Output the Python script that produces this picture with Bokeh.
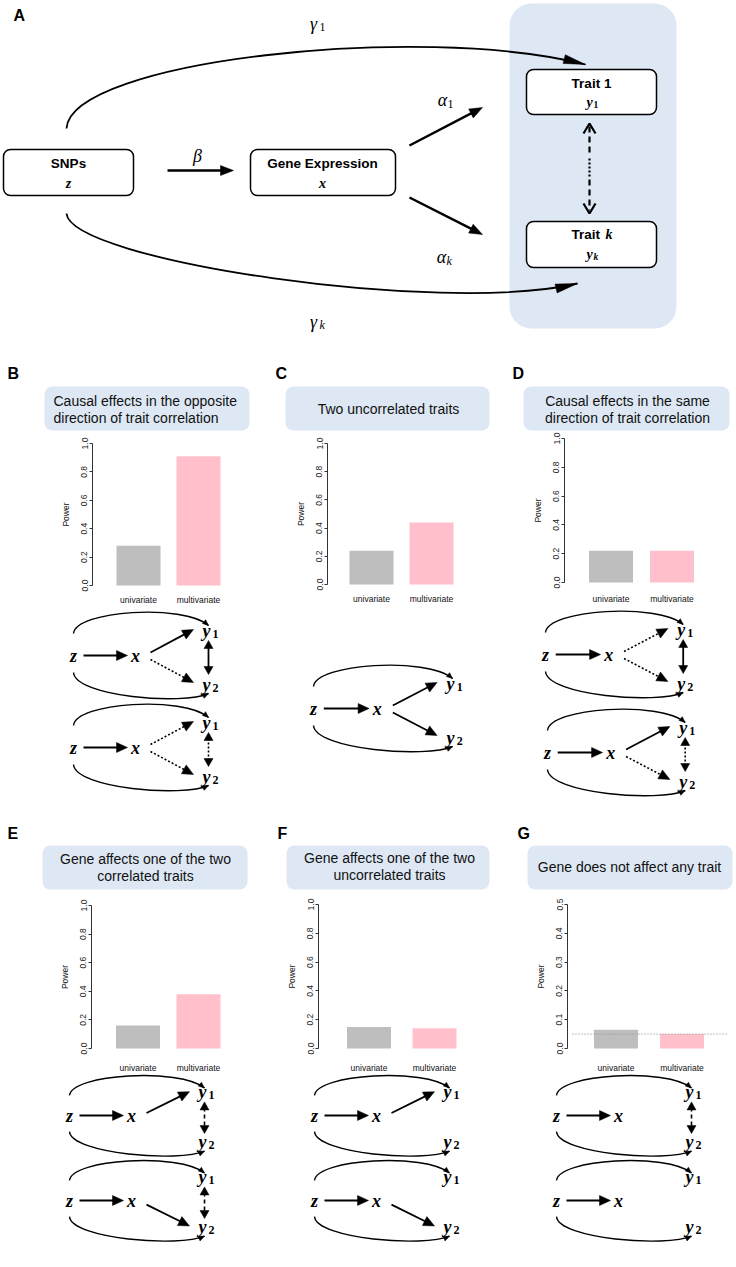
import math
from bokeh.plotting import figure
from bokeh.models import Range1d, LinearAxis, FixedTicker, BoxAnnotation, PrintfTickFormatter
from bokeh.core.properties import value
from bokeh.embed import file_html
from bokeh.resources import INLINE

# ---------------- data ----------------
methods = ["univariate", "multivariate"]
power_B = [0.28, 0.91]
power_C = [0.24, 0.44]
power_D = [0.22, 0.22]
power_E = [0.16, 0.38]
power_F = [0.15, 0.14]
power_G = [0.065, 0.05]
alpha_G = 0.05
ticks_full = [0.0, 0.2, 0.4, 0.6, 0.8, 1.0]
ticks_G = [0.0, 0.1, 0.2, 0.3, 0.4, 0.5]
bar_colors = ["#bebebe", "#ffc0cb"]
title_B = ["Causal effects in the opposite", "direction of trait correlation"]
title_C = ["Two uncorrelated traits"]
title_D = ["Causal effects in the same", "direction of trait correlation"]
title_E = ["Gene affects one of the two", "correlated traits"]
title_F = ["Gene affects one of the two", "uncorrelated traits"]
title_G = ["Gene does not affect any trait"]

# ---------------- canvas ----------------
W, H, M = 736, 1267, 0
p = figure(width=W, height=H, x_range=Range1d(M, M + W), y_range=Range1d(M + H, M),
           output_backend="svg", toolbar_location=None, x_axis_location=None,
           y_axis_location=None, min_border=0, outline_line_color=None,
           background_fill_color="white", border_fill_color="white")
p.xgrid.visible = False
p.ygrid.visible = False

BLUE = "#dde8f4"
SANS = "Liberation Sans"
SERIF = "Liberation Serif"
TY = -5  # baseline correction


def T(x, y, s, size, font=SANS, style="normal", align="center", base="alphabetic", color="#000000"):
    p.text(x=[x], y=[y + TY], text=[s], text_font=value(font), text_font_size=f"{size}px",
           text_font_style=style, text_align=align, text_baseline=base, text_color=color)


def box(l, r, t, b, fill, line=None, lw=1.5, rad=8):
    p.add_layout(BoxAnnotation(left=l, right=r, top=t, bottom=b, fill_color=fill, fill_alpha=1,
                               line_color=line, line_alpha=1 if line else 0, line_width=lw,
                               line_dash="solid", border_radius=rad, level="underlay"))


lines = {}
heads_x, heads_y = [], []
open_x, open_y = [], []
beziers = {}


def add_line(xs, ys, kind):
    lines.setdefault(kind, ([], []))
    lines[kind][0].append(xs)
    lines[kind][1].append(ys)


def head(tx, ty, dx, dy, L, Wd):
    n = math.hypot(dx, dy)
    ux, uy = dx / n, dy / n
    bx, by = tx - L * ux, ty - L * uy
    px, py = -uy, ux
    heads_x.append([tx, bx + Wd / 2 * px, bx - Wd / 2 * px])
    heads_y.append([ty, by + Wd / 2 * py, by - Wd / 2 * py])


def open_head(tx, ty, dx, dy, L, Wd):
    n = math.hypot(dx, dy)
    ux, uy = dx / n, dy / n
    bx, by = tx - L * ux, ty - L * uy
    px, py = -uy, ux
    open_x.append([bx + Wd / 2 * px, tx, bx - Wd / 2 * px])
    open_y.append([by + Wd / 2 * py, ty, by - Wd / 2 * py])


def arrow(x0, y0, x1, y1, kind, L, Wd):
    dx, dy = x1 - x0, y1 - y0
    n = math.hypot(dx, dy)
    ux, uy = dx / n, dy / n
    add_line([x0, x1 - 0.7 * L * ux], [y0, y1 - 0.7 * L * uy], kind)
    head(x1, y1, dx, dy, L, Wd)


def curve(P0, P1, P2, P3, lw, L, Wd):
    beziers.setdefault(lw, [])
    beziers[lw].append((P0, P1, P2, P3))
    head(P3[0], P3[1], P3[0] - P2[0], P3[1] - P2[1], L, Wd)


# ---------------- panel A ----------------
box(509, 676, 3, 328, BLUE, rad=22)
box(3, 133, 149, 195, "white", "black", 1.5, 7)
box(250, 395, 149, 195, "white", "black", 1.5, 7)
box(526, 656, 69, 114, "white", "black", 1.5, 7)
box(526, 656, 221, 267, "white", "black", 1.5, 7)
T(13, 20, "A", 16, style="bold", align="left")
T(68, 168, "SNPs", 13.5, style="bold")
T(68, 188, "z", 14, font=SERIF, style="bold italic")
T(322, 168, "Gene Expression", 13.5, style="bold")
T(322, 188, "x", 14, font=SERIF, style="bold italic")
T(591, 88, "Trait 1", 13.5, style="bold")
T(589, 107, "y", 14, font=SERIF, style="bold italic")
T(593, 109, "1", 9.5, font=SERIF, style="bold", align="left")
T(571, 239, "Trait", 13.5, style="bold", align="left")
T(605, 239, "k", 14, font=SERIF, style="bold italic", align="left")
T(589, 259, "y", 14, font=SERIF, style="bold italic")
T(593, 261, "k", 9.5, font=SERIF, style="bold italic", align="left")
T(197, 160, "β", 18, font=SERIF, style="italic")
T(442, 104, "α", 18, font=SERIF, style="italic")
T(447, 108, "1", 12, font=SERIF, align="left")
T(441, 261, "α", 18, font=SERIF, style="italic")
T(446, 265, "k", 12, font=SERIF, style="italic", align="left")
T(313, 28, "γ", 18, font=SERIF, style="italic")
T(319, 31, "1", 12, font=SERIF, align="left")
T(313, 326, "γ", 18, font=SERIF, style="italic")
T(319, 329, "k", 12, font=SERIF, style="italic", align="left")

arrow(167, 170, 233, 170, "A", 13, 10)
arrow(409, 145, 482, 107, "A", 13, 10)
arrow(409, 197, 482, 234, "A", 13, 10)
curve((66, 128), (70, 60), (420, 22), (585, 64), 1.8, 22, 9)
curve((66, 213), (70, 260), (440, 315), (577, 283), 1.8, 22, 9)
# dashed / dotted correlation arrow
add_line([589, 589], [126, 155], "Adash")
add_line([589, 589], [158, 176], "Adot")
add_line([589, 589], [179, 210], "Adash")
open_head(589, 123, 0, -1, 10, 12)
open_head(589, 213, 0, 1, 10, 12)


# ---------------- small causal diagrams ----------------
def diagram(zx, b, e1, e2, corr, s=1.0, v=1.0):
    X = lambda d: zx + d * s
    Y = lambda d: b + d * v
    T(zx, b, "z", 18, font=SERIF, style="bold italic")
    T(X(62), b, "x", 18, font=SERIF, style="bold italic")
    T(X(133), Y(-25), "y", 18, font=SERIF, style="bold italic")
    T(X(139), Y(-22), "1", 12, font=SERIF, style="bold", align="left")
    T(X(133), Y(29), "y", 18, font=SERIF, style="bold italic")
    T(X(139), Y(32), "2", 12, font=SERIF, style="bold", align="left")
    arrow(X(10), b - 5, X(54), b - 5, "solid", 11, 10)
    if e1:
        arrow(X(77), Y(-8), X(120), Y(-31), e1, 11, 10)
    if e2:
        arrow(X(77), Y(-1), X(120), Y(22), e2, 11, 10)
    if corr:
        xc = X(135)
        add_line([xc, xc], [Y(-14), Y(8)], corr)
        head(xc, Y(-20), 0, -1, 8, 9)
        head(xc, Y(14), 0, 1, 8, 9)
    curve((zx, Y(-27)), (zx + 2, Y(-50)), (X(110), Y(-57)), (X(135), Y(-35)), 1.4, 6, 5)
    curve((zx, Y(12)), (zx + 2, Y(36)), (X(110), Y(45)), (X(135), Y(33)), 1.4, 6, 5)


diagram(73, 660, "solid", "dotted", "solid")
diagram(73, 752, "dotted", "dotted", "dotted")
diagram(313, 713, "solid", "solid", None, 1.03)
diagram(545, 659, "dotted", "dotted", "solid", 1.02)
diagram(547, 757, "solid", "dotted", "dotted", 1.02)
diagram(69, 1120, "solid", None, "dashed", 1.0, 0.93)
diagram(69, 1205, None, "solid", "dashed", 1.0, 0.93)
diagram(314, 1120, "solid", None, None, 1.0, 0.93)
diagram(314, 1205, None, "solid", None, 1.0, 0.93)
diagram(556, 1120, None, None, "dashed", 1.0, 0.93)
diagram(556, 1205, None, None, None, 1.0, 0.93)

styles = {
    "A": dict(line_width=2.5),
    "Adash": dict(line_width=2.2, line_dash="6 4"),
    "Adot": dict(line_width=2.2, line_dash="2 2"),
    "solid": dict(line_width=1.8),
    "dotted": dict(line_width=1.6, line_dash="2 2"),
    "dashed": dict(line_width=1.6, line_dash="4 3"),
}
for kind, (xs, ys) in lines.items():
    p.multi_line(xs=xs, ys=ys, line_color="black", **styles[kind])
for lw, lst in beziers.items():
    p.bezier(x0=[c[0][0] for c in lst], y0=[c[0][1] for c in lst],
             cx0=[c[1][0] for c in lst], cy0=[c[1][1] for c in lst],
             cx1=[c[2][0] for c in lst], cy1=[c[2][1] for c in lst],
             x1=[c[3][0] for c in lst], y1=[c[3][1] for c in lst],
             line_color="black", line_width=lw)
p.patches(xs=heads_x, ys=heads_y, fill_color="black", line_color="black", line_width=0.5)
p.multi_line(xs=open_x, ys=open_y, line_color="black", line_width=2.2)

# ---------------- bar panels ----------------
positions = [i + 1 for i in range(len(methods))]

panels = [
    dict(k="B", v=power_B, t=ticks_full, vmax=1.0, ax=92, y0=585, yt=443, c=(138, 198), ly=594,
         let=(7, 378), hb=(44, 249, 386, 430), title=title_B, tl=[(53, 405, "left"), (53, 422, "left")]),
    dict(k="C", v=power_C, t=ticks_full, vmax=1.0, ax=327, y0=584, yt=443, c=(371, 431), ly=593,
         let=(275, 378), hb=(285, 489, 386, 430), title=title_C, tl=[(388, 413, "center")]),
    dict(k="D", v=power_D, t=ticks_full, vmax=1.0, ax=564, y0=582, yt=438, c=(610.5, 671.5), ly=593,
         let=(512, 378), hb=(523, 729, 386, 430), title=title_D, tl=[(627, 405, "center"), (627, 422, "center")]),
    dict(k="E", v=power_E, t=ticks_full, vmax=1.0, ax=91, y0=1048, yt=905, c=(137.5, 198), ly=1062,
         let=(7, 838), hb=(42, 247, 845, 889), title=title_E, tl=[(145, 863, "center"), (145, 880, "center")]),
    dict(k="F", v=power_F, t=ticks_full, vmax=1.0, ax=318, y0=1048, yt=904, c=(368.5, 434), ly=1062,
         let=(277, 838), hb=(286, 489, 845, 889), title=title_F, tl=[(389, 862, "center"), (389, 879, "center")]),
    dict(k="G", v=power_G, t=ticks_G, vmax=0.5, ax=567, y0=1048, yt=904, c=(615.5, 681.5), ly=1062,
         let=(517, 838), hb=(527, 732, 845, 889), title=title_G, tl=[(629, 871, "center")]),
]

p.extra_x_ranges = {}
p.extra_y_ranges = {}
for P in panels:
    key = P["k"]
    kx = P["c"][1] - P["c"][0]
    xs0 = positions[0] - (P["c"][0] - M) / kx
    p.extra_x_ranges["x" + key] = Range1d(xs0, xs0 + W / kx)
    ky = (P["y0"] - P["yt"]) / P["vmax"]
    ys0 = -(M + H - P["y0"]) / ky
    p.extra_y_ranges["y" + key] = Range1d(ys0, ys0 + H / ky)

    l, r, t, b = P["hb"]
    box(l, r, t, b, BLUE, rad=8)
    T(P["let"][0], P["let"][1], key, 16, style="bold", align="left")
    for (tx, ty, al), s in zip(P["tl"], P["title"]):
        T(tx, ty, s, 14, align=al, color="#111111")

    p.vbar(x=positions, top=P["v"], bottom=0, width=44 / kx, fill_color=bar_colors,
           line_color=None, x_range_name="x" + key, y_range_name="y" + key)

    yax = LinearAxis(y_range_name="y" + key, fixed_location=P["ax"], bounds=(0, P["vmax"]),
                     ticker=FixedTicker(ticks=P["t"]), formatter=PrintfTickFormatter(format="%.1f"),
                     major_label_orientation="vertical", axis_label="Power",
                     axis_label_text_font_size="8.5px", axis_label_text_font_style="normal",
                     axis_label_text_font=SANS, axis_label_standoff=8,
                     axis_label_text_color="#111111",
                     major_tick_out=3, major_tick_in=0, minor_tick_line_color=None,
                     major_label_text_font_size="8.5px", major_label_text_font=SANS,
                     major_label_standoff=2, axis_line_color="#333333",
                     major_tick_line_color="#333333", major_label_text_color="#222222")
    p.add_layout(yax, "left")

    xax = LinearAxis(x_range_name="x" + key, fixed_location=P["ly"],
                     ticker=FixedTicker(ticks=positions),
                     major_label_overrides={pos: m for pos, m in zip(positions, methods)},
                     axis_line_color=None, major_tick_line_color=None, minor_tick_line_color=None,
                     major_tick_out=0, major_tick_in=0, major_label_standoff=0,
                     major_label_text_font_size="8.5px", major_label_text_font=SANS,
                     major_label_text_color="#111111")
    p.add_layout(xax, "below")

p.segment(x0=[572], x1=[727], y0=[alpha_G], y1=[alpha_G], y_range_name="yG",
          line_color="#999999", line_width=1.2, line_dash="1 2")

open("out.html", "w").write(file_html(p, INLINE))
